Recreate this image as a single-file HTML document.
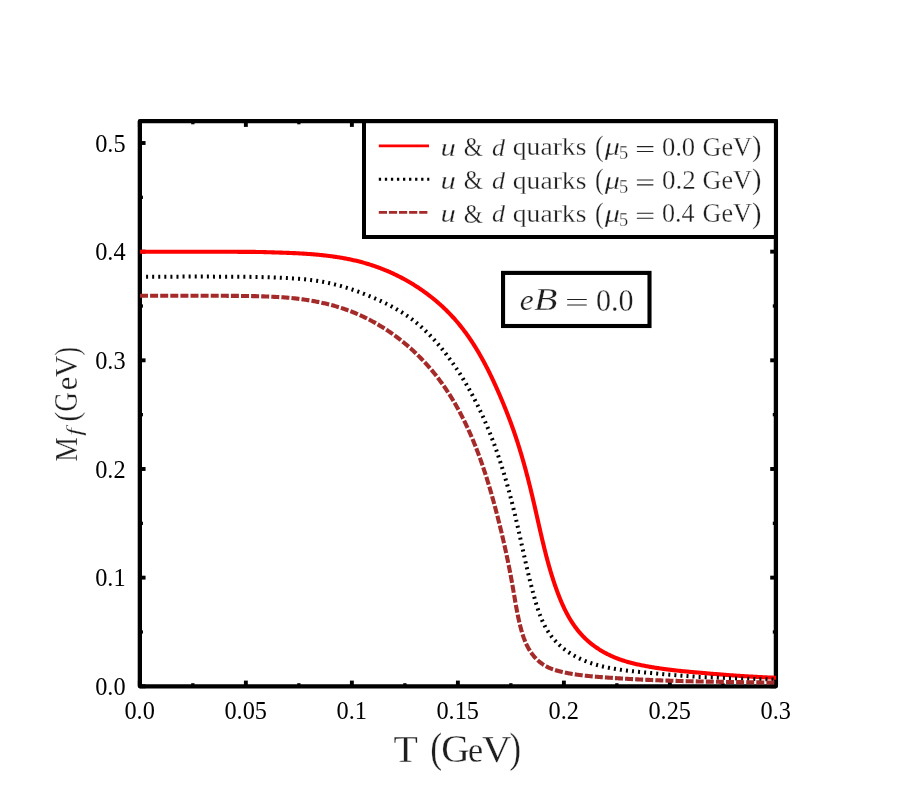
<!DOCTYPE html>
<html>
<head>
<meta charset="utf-8">
<title>Mf vs T</title>
<style>
html,body{margin:0;padding:0;background:#fff;}
body{width:913px;height:812px;overflow:hidden;font-family:"Liberation Serif",serif;}
svg{display:block;position:absolute;left:0;top:0;will-change:transform;}
svg text{font-family:"Liberation Serif",serif;}
</style>
</head>
<body>
<svg width="913" height="812" viewBox="0 0 913 812">
<rect x="0" y="0" width="913" height="812" fill="#ffffff"/>

<!-- frame -->
<rect x="139.85" y="121.2" width="636.05" height="565.0999999999999" fill="none" stroke="#000" stroke-width="4.3" stroke-linejoin="round"/>
<g stroke="#000" stroke-linecap="butt">
<line x1="139.85" y1="686.3" x2="139.85" y2="680.5999999999999" stroke-width="3.9"/>
<line x1="139.85" y1="121.2" x2="139.85" y2="126.9" stroke-width="3.9"/>
<line x1="192.85" y1="686.3" x2="192.85" y2="683.1999999999999" stroke-width="3.3"/>
<line x1="192.85" y1="121.2" x2="192.85" y2="124.3" stroke-width="3.3"/>
<line x1="245.86" y1="686.3" x2="245.86" y2="680.5999999999999" stroke-width="3.9"/>
<line x1="245.86" y1="121.2" x2="245.86" y2="126.9" stroke-width="3.9"/>
<line x1="298.86" y1="686.3" x2="298.86" y2="683.1999999999999" stroke-width="3.3"/>
<line x1="298.86" y1="121.2" x2="298.86" y2="124.3" stroke-width="3.3"/>
<line x1="351.87" y1="686.3" x2="351.87" y2="680.5999999999999" stroke-width="3.9"/>
<line x1="351.87" y1="121.2" x2="351.87" y2="126.9" stroke-width="3.9"/>
<line x1="404.87" y1="686.3" x2="404.87" y2="683.1999999999999" stroke-width="3.3"/>
<line x1="404.87" y1="121.2" x2="404.87" y2="124.3" stroke-width="3.3"/>
<line x1="457.88" y1="686.3" x2="457.88" y2="680.5999999999999" stroke-width="3.9"/>
<line x1="457.88" y1="121.2" x2="457.88" y2="126.9" stroke-width="3.9"/>
<line x1="510.88" y1="686.3" x2="510.88" y2="683.1999999999999" stroke-width="3.3"/>
<line x1="510.88" y1="121.2" x2="510.88" y2="124.3" stroke-width="3.3"/>
<line x1="563.88" y1="686.3" x2="563.88" y2="680.5999999999999" stroke-width="3.9"/>
<line x1="563.88" y1="121.2" x2="563.88" y2="126.9" stroke-width="3.9"/>
<line x1="616.89" y1="686.3" x2="616.89" y2="683.1999999999999" stroke-width="3.3"/>
<line x1="616.89" y1="121.2" x2="616.89" y2="124.3" stroke-width="3.3"/>
<line x1="669.89" y1="686.3" x2="669.89" y2="680.5999999999999" stroke-width="3.9"/>
<line x1="669.89" y1="121.2" x2="669.89" y2="126.9" stroke-width="3.9"/>
<line x1="722.90" y1="686.3" x2="722.90" y2="683.1999999999999" stroke-width="3.3"/>
<line x1="722.90" y1="121.2" x2="722.90" y2="124.3" stroke-width="3.3"/>
<line x1="775.90" y1="686.3" x2="775.90" y2="680.5999999999999" stroke-width="3.9"/>
<line x1="775.90" y1="121.2" x2="775.90" y2="126.9" stroke-width="3.9"/>
<line x1="139.85" y1="686.30" x2="145.54999999999998" y2="686.30" stroke-width="3.9"/>
<line x1="775.9" y1="686.30" x2="770.1999999999999" y2="686.30" stroke-width="3.9"/>
<line x1="139.85" y1="631.97" x2="142.95" y2="631.97" stroke-width="3.3"/>
<line x1="775.9" y1="631.97" x2="772.8" y2="631.97" stroke-width="3.3"/>
<line x1="139.85" y1="577.64" x2="145.54999999999998" y2="577.64" stroke-width="3.9"/>
<line x1="775.9" y1="577.64" x2="770.1999999999999" y2="577.64" stroke-width="3.9"/>
<line x1="139.85" y1="523.31" x2="142.95" y2="523.31" stroke-width="3.3"/>
<line x1="775.9" y1="523.31" x2="772.8" y2="523.31" stroke-width="3.3"/>
<line x1="139.85" y1="468.98" x2="145.54999999999998" y2="468.98" stroke-width="3.9"/>
<line x1="775.9" y1="468.98" x2="770.1999999999999" y2="468.98" stroke-width="3.9"/>
<line x1="139.85" y1="414.65" x2="142.95" y2="414.65" stroke-width="3.3"/>
<line x1="775.9" y1="414.65" x2="772.8" y2="414.65" stroke-width="3.3"/>
<line x1="139.85" y1="360.32" x2="145.54999999999998" y2="360.32" stroke-width="3.9"/>
<line x1="775.9" y1="360.32" x2="770.1999999999999" y2="360.32" stroke-width="3.9"/>
<line x1="139.85" y1="305.99" x2="142.95" y2="305.99" stroke-width="3.3"/>
<line x1="775.9" y1="305.99" x2="772.8" y2="305.99" stroke-width="3.3"/>
<line x1="139.85" y1="251.66" x2="145.54999999999998" y2="251.66" stroke-width="3.9"/>
<line x1="775.9" y1="251.66" x2="770.1999999999999" y2="251.66" stroke-width="3.9"/>
<line x1="139.85" y1="197.33" x2="142.95" y2="197.33" stroke-width="3.3"/>
<line x1="775.9" y1="197.33" x2="772.8" y2="197.33" stroke-width="3.3"/>
<line x1="139.85" y1="143.00" x2="145.54999999999998" y2="143.00" stroke-width="3.9"/>
<line x1="775.9" y1="143.00" x2="770.1999999999999" y2="143.00" stroke-width="3.9"/>
</g>

<!-- curves -->
<g fill="none" stroke-linejoin="round">
<path d="M140.00,251.80 L141.00,251.80 L142.00,251.80 L143.00,251.80 L144.00,251.79 L145.00,251.79 L146.00,251.79 L147.00,251.79 L148.00,251.79 L149.00,251.79 L150.00,251.78 L151.00,251.78 L152.00,251.78 L153.00,251.78 L154.00,251.78 L155.00,251.78 L156.00,251.77 L157.00,251.77 L158.00,251.77 L159.00,251.77 L160.00,251.77 L161.00,251.77 L162.00,251.76 L163.00,251.76 L164.00,251.76 L165.00,251.76 L166.00,251.76 L167.00,251.76 L168.00,251.75 L169.00,251.75 L170.00,251.75 L171.00,251.75 L172.00,251.75 L173.00,251.74 L174.00,251.74 L175.00,251.74 L176.00,251.74 L177.00,251.74 L178.00,251.73 L179.00,251.73 L180.00,251.73 L181.00,251.73 L182.00,251.73 L183.00,251.72 L184.00,251.72 L185.00,251.72 L186.00,251.72 L187.00,251.71 L188.00,251.71 L189.00,251.71 L190.00,251.71 L191.00,251.71 L192.00,251.71 L193.00,251.70 L194.00,251.70 L195.00,251.70 L196.00,251.70 L197.00,251.70 L198.00,251.70 L199.00,251.70 L200.00,251.70 L201.00,251.70 L202.00,251.70 L203.00,251.70 L204.00,251.70 L205.00,251.70 L206.00,251.71 L207.00,251.71 L208.00,251.71 L209.00,251.71 L210.00,251.72 L211.00,251.72 L212.00,251.72 L213.00,251.73 L214.00,251.73 L215.00,251.74 L216.00,251.74 L217.00,251.74 L218.00,251.75 L219.00,251.75 L220.00,251.76 L221.00,251.76 L222.00,251.77 L223.00,251.77 L224.00,251.77 L225.00,251.78 L226.00,251.78 L227.00,251.79 L228.00,251.79 L229.00,251.80 L230.00,251.80 L231.00,251.80 L232.00,251.81 L233.00,251.81 L234.00,251.81 L235.00,251.82 L236.00,251.82 L237.00,251.82 L238.00,251.83 L239.00,251.83 L240.00,251.84 L241.00,251.84 L242.00,251.84 L243.00,251.85 L244.00,251.85 L245.00,251.86 L246.00,251.86 L247.00,251.87 L248.00,251.87 L249.00,251.88 L250.00,251.88 L251.00,251.89 L252.00,251.90 L253.00,251.90 L254.00,251.91 L255.00,251.92 L256.00,251.94 L257.00,251.95 L258.00,251.97 L259.00,251.99 L260.00,252.01 L261.00,252.03 L262.00,252.05 L263.00,252.07 L264.00,252.10 L265.00,252.12 L266.00,252.15 L267.00,252.18 L268.00,252.21 L269.00,252.24 L270.00,252.27 L270.99,252.30 L271.99,252.33 L272.99,252.37 L273.99,252.40 L274.99,252.43 L275.99,252.46 L276.99,252.50 L277.99,252.53 L278.99,252.57 L279.99,252.60 L280.99,252.63 L281.99,252.67 L282.99,252.70 L283.99,252.73 L284.99,252.77 L285.99,252.80 L286.99,252.84 L287.99,252.88 L288.98,252.91 L289.98,252.95 L290.98,253.00 L291.98,253.04 L292.98,253.08 L293.98,253.13 L294.98,253.17 L295.98,253.22 L296.98,253.27 L297.98,253.32 L298.97,253.37 L299.97,253.43 L300.97,253.48 L301.97,253.54 L302.97,253.60 L303.97,253.66 L304.96,253.73 L305.96,253.79 L306.96,253.86 L307.96,253.93 L308.96,254.00 L309.95,254.07 L310.95,254.15 L311.95,254.22 L312.94,254.30 L313.94,254.39 L314.94,254.47 L315.93,254.56 L316.93,254.65 L317.93,254.74 L318.92,254.83 L319.92,254.93 L320.91,255.03 L321.91,255.14 L322.90,255.24 L323.90,255.35 L324.89,255.46 L325.88,255.57 L326.88,255.69 L327.87,255.81 L328.86,255.94 L329.85,256.06 L330.85,256.19 L331.84,256.32 L332.83,256.46 L333.82,256.60 L334.81,256.74 L335.80,256.89 L336.79,257.04 L337.77,257.19 L338.76,257.35 L339.75,257.51 L340.74,257.68 L341.72,257.84 L342.71,258.02 L343.69,258.19 L344.68,258.37 L345.66,258.56 L346.64,258.74 L347.62,258.94 L348.61,259.13 L349.59,259.33 L350.57,259.54 L351.54,259.74 L352.52,259.96 L353.50,260.17 L354.47,260.40 L355.45,260.62 L356.42,260.85 L357.39,261.09 L358.37,261.33 L359.34,261.57 L360.31,261.82 L361.27,262.07 L362.24,262.33 L363.21,262.60 L364.17,262.87 L365.13,263.14 L366.09,263.42 L367.05,263.70 L368.01,263.99 L368.97,264.28 L369.92,264.58 L370.88,264.88 L371.83,265.19 L372.78,265.50 L373.73,265.82 L374.68,266.15 L375.62,266.47 L376.57,266.81 L377.51,267.15 L378.45,267.49 L379.39,267.84 L380.32,268.19 L381.26,268.55 L382.19,268.91 L383.12,269.28 L384.05,269.65 L384.98,270.03 L385.90,270.41 L386.83,270.80 L387.75,271.19 L388.67,271.59 L389.58,271.99 L390.50,272.40 L391.41,272.81 L392.32,273.22 L393.23,273.65 L394.14,274.07 L395.04,274.50 L395.94,274.93 L396.84,275.37 L397.74,275.82 L398.64,276.27 L399.53,276.72 L400.42,277.18 L401.31,277.64 L402.19,278.11 L403.08,278.58 L403.96,279.05 L404.84,279.53 L405.71,280.02 L406.59,280.51 L407.46,281.00 L408.33,281.50 L409.19,282.00 L410.06,282.51 L410.92,283.02 L411.77,283.54 L412.63,284.06 L413.48,284.59 L414.33,285.12 L415.18,285.65 L416.02,286.19 L416.87,286.73 L417.71,287.28 L418.54,287.83 L419.37,288.39 L420.20,288.95 L421.03,289.51 L421.86,290.08 L422.68,290.65 L423.50,291.23 L424.31,291.81 L425.13,292.40 L425.93,292.99 L426.74,293.58 L427.54,294.18 L428.34,294.79 L429.14,295.39 L429.94,296.01 L430.73,296.62 L431.51,297.24 L432.30,297.87 L433.08,298.49 L433.85,299.13 L434.63,299.76 L435.40,300.40 L436.17,301.05 L436.93,301.70 L437.69,302.35 L438.45,303.01 L439.20,303.67 L439.95,304.34 L440.70,305.01 L441.44,305.68 L442.18,306.36 L442.91,307.04 L443.64,307.73 L444.37,308.42 L445.09,309.11 L445.81,309.81 L446.53,310.51 L447.24,311.22 L447.95,311.93 L448.65,312.64 L449.35,313.36 L450.05,314.08 L450.74,314.80 L451.43,315.53 L452.11,316.27 L452.79,317.01 L453.47,317.75 L454.14,318.49 L454.81,319.24 L455.47,319.99 L456.13,320.75 L456.79,321.51 L457.44,322.28 L458.08,323.04 L458.72,323.81 L459.36,324.59 L459.99,325.37 L460.62,326.15 L461.25,326.93 L461.87,327.72 L462.48,328.51 L463.10,329.31 L463.70,330.11 L464.31,330.91 L464.91,331.71 L465.51,332.52 L466.10,333.33 L466.69,334.14 L467.27,334.96 L467.85,335.78 L468.43,336.60 L469.00,337.42 L469.57,338.25 L470.13,339.08 L470.69,339.91 L471.25,340.74 L471.81,341.58 L472.36,342.42 L472.90,343.26 L473.44,344.10 L473.98,344.95 L474.52,345.80 L475.05,346.65 L475.58,347.50 L476.11,348.36 L476.63,349.21 L477.15,350.07 L477.66,350.93 L478.17,351.80 L478.68,352.66 L479.19,353.53 L479.69,354.40 L480.19,355.27 L480.68,356.14 L481.18,357.01 L481.67,357.89 L482.15,358.76 L482.64,359.64 L483.12,360.52 L483.60,361.41 L484.07,362.29 L484.54,363.17 L485.01,364.06 L485.48,364.95 L485.94,365.84 L486.41,366.73 L486.86,367.62 L487.32,368.51 L487.77,369.41 L488.22,370.30 L488.67,371.20 L489.12,372.10 L489.56,373.00 L490.00,373.90 L490.44,374.80 L490.88,375.70 L491.31,376.60 L491.75,377.51 L492.18,378.41 L492.60,379.32 L493.03,380.23 L493.45,381.14 L493.87,382.05 L494.29,382.96 L494.71,383.87 L495.13,384.78 L495.54,385.69 L495.95,386.61 L496.36,387.52 L496.77,388.44 L497.18,389.35 L497.58,390.27 L497.99,391.18 L498.39,392.10 L498.79,393.02 L499.19,393.94 L499.59,394.86 L499.98,395.78 L500.38,396.70 L500.77,397.62 L501.16,398.54 L501.55,399.47 L501.94,400.39 L502.33,401.32 L502.71,402.24 L503.10,403.17 L503.48,404.09 L503.86,405.02 L504.24,405.95 L504.62,406.87 L504.99,407.80 L505.37,408.73 L505.74,409.66 L506.11,410.59 L506.48,411.53 L506.85,412.46 L507.21,413.39 L507.58,414.33 L507.94,415.26 L508.30,416.19 L508.66,417.13 L509.02,418.07 L509.37,419.00 L509.73,419.94 L510.08,420.88 L510.43,421.82 L510.78,422.76 L511.13,423.70 L511.47,424.64 L511.81,425.59 L512.15,426.53 L512.49,427.47 L512.83,428.42 L513.16,429.36 L513.50,430.31 L513.83,431.26 L514.16,432.20 L514.48,433.15 L514.81,434.10 L515.13,435.05 L515.45,436.00 L515.77,436.95 L516.09,437.90 L516.40,438.86 L516.72,439.81 L517.03,440.76 L517.34,441.72 L517.65,442.67 L517.95,443.63 L518.26,444.58 L518.56,445.54 L518.86,446.50 L519.16,447.45 L519.45,448.41 L519.75,449.37 L520.04,450.33 L520.33,451.29 L520.62,452.25 L520.91,453.21 L521.20,454.17 L521.48,455.13 L521.77,456.09 L522.05,457.06 L522.33,458.02 L522.61,458.98 L522.88,459.95 L523.16,460.91 L523.43,461.87 L523.71,462.84 L523.98,463.80 L524.25,464.77 L524.52,465.74 L524.78,466.70 L525.05,467.67 L525.31,468.64 L525.57,469.60 L525.84,470.57 L526.10,471.54 L526.35,472.51 L526.61,473.48 L526.87,474.45 L527.12,475.42 L527.38,476.39 L527.63,477.36 L527.88,478.33 L528.13,479.30 L528.38,480.27 L528.63,481.24 L528.87,482.21 L529.12,483.18 L529.36,484.16 L529.60,485.13 L529.85,486.10 L530.09,487.07 L530.33,488.05 L530.57,489.02 L530.80,489.99 L531.04,490.97 L531.28,491.94 L531.51,492.91 L531.75,493.89 L531.98,494.86 L532.21,495.84 L532.44,496.81 L532.67,497.79 L532.90,498.76 L533.13,499.74 L533.36,500.71 L533.59,501.69 L533.81,502.67 L534.04,503.64 L534.26,504.62 L534.49,505.59 L534.71,506.57 L534.93,507.54 L535.16,508.52 L535.38,509.50 L535.60,510.47 L535.82,511.45 L536.04,512.43 L536.26,513.40 L536.48,514.38 L536.70,515.35 L536.92,516.33 L537.14,517.30 L537.36,518.28 L537.58,519.26 L537.80,520.23 L538.02,521.21 L538.24,522.18 L538.46,523.16 L538.68,524.13 L538.90,525.11 L539.12,526.08 L539.34,527.06 L539.57,528.03 L539.79,529.00 L540.01,529.98 L540.23,530.95 L540.46,531.93 L540.68,532.90 L540.90,533.87 L541.13,534.84 L541.35,535.82 L541.58,536.79 L541.81,537.76 L542.04,538.73 L542.27,539.70 L542.50,540.67 L542.73,541.65 L542.96,542.62 L543.19,543.59 L543.43,544.56 L543.66,545.52 L543.90,546.49 L544.14,547.46 L544.38,548.43 L544.62,549.40 L544.86,550.37 L545.10,551.33 L545.35,552.30 L545.59,553.26 L545.84,554.23 L546.09,555.19 L546.34,556.16 L546.59,557.12 L546.85,558.09 L547.10,559.05 L547.36,560.01 L547.62,560.97 L547.88,561.94 L548.15,562.90 L548.41,563.86 L548.68,564.82 L548.95,565.77 L549.22,566.73 L549.50,567.69 L549.77,568.65 L550.05,569.60 L550.33,570.56 L550.62,571.51 L550.90,572.47 L551.19,573.42 L551.48,574.37 L551.77,575.32 L552.07,576.28 L552.37,577.23 L552.67,578.17 L552.97,579.12 L553.28,580.07 L553.59,581.02 L553.90,581.96 L554.21,582.91 L554.53,583.85 L554.85,584.79 L555.17,585.73 L555.50,586.67 L555.83,587.61 L556.16,588.55 L556.50,589.49 L556.83,590.43 L557.17,591.36 L557.52,592.29 L557.87,593.23 L558.22,594.16 L558.58,595.08 L558.94,596.01 L559.30,596.94 L559.67,597.86 L560.04,598.78 L560.42,599.70 L560.80,600.62 L561.19,601.53 L561.58,602.45 L561.97,603.36 L562.38,604.27 L562.78,605.17 L563.19,606.08 L563.61,606.98 L564.03,607.88 L564.46,608.77 L564.90,609.67 L565.34,610.56 L565.79,611.44 L566.24,612.33 L566.70,613.21 L567.17,614.08 L567.64,614.96 L568.12,615.83 L568.60,616.69 L569.10,617.55 L569.60,618.41 L570.11,619.26 L570.62,620.11 L571.15,620.95 L571.68,621.79 L572.22,622.63 L572.76,623.46 L573.32,624.28 L573.88,625.10 L574.45,625.91 L575.03,626.72 L575.61,627.52 L576.21,628.32 L576.81,629.10 L577.42,629.89 L578.04,630.66 L578.67,631.43 L579.31,632.19 L579.96,632.95 L580.61,633.69 L581.27,634.43 L581.95,635.16 L582.63,635.89 L583.32,636.60 L584.02,637.31 L584.72,638.01 L585.44,638.70 L586.16,639.38 L586.89,640.05 L587.64,640.72 L588.38,641.37 L589.14,642.02 L589.90,642.66 L590.67,643.29 L591.45,643.91 L592.24,644.52 L593.03,645.12 L593.83,645.72 L594.63,646.31 L595.44,646.88 L596.26,647.45 L597.09,648.01 L597.92,648.57 L598.75,649.11 L599.59,649.65 L600.44,650.17 L601.29,650.69 L602.15,651.20 L603.01,651.70 L603.88,652.19 L604.75,652.68 L605.62,653.15 L606.51,653.62 L607.39,654.08 L608.28,654.52 L609.18,654.96 L610.08,655.39 L610.98,655.82 L611.89,656.23 L612.80,656.63 L613.72,657.03 L614.64,657.41 L615.56,657.79 L616.49,658.16 L617.42,658.52 L618.36,658.87 L619.29,659.22 L620.23,659.55 L621.18,659.88 L622.12,660.20 L623.07,660.51 L624.02,660.81 L624.98,661.11 L625.93,661.40 L626.89,661.68 L627.85,661.96 L628.81,662.23 L629.78,662.49 L630.74,662.75 L631.71,663.00 L632.68,663.25 L633.65,663.49 L634.62,663.72 L635.59,663.95 L636.57,664.17 L637.54,664.39 L638.52,664.60 L639.50,664.81 L640.47,665.02 L641.45,665.22 L642.43,665.42 L643.41,665.61 L644.40,665.80 L645.38,665.99 L646.36,666.17 L647.34,666.35 L648.33,666.53 L649.31,666.71 L650.30,666.88 L651.28,667.05 L652.27,667.21 L653.25,667.38 L654.24,667.54 L655.23,667.70 L656.22,667.85 L657.20,668.00 L658.19,668.15 L659.18,668.30 L660.17,668.45 L661.16,668.59 L662.15,668.73 L663.14,668.87 L664.13,669.00 L665.12,669.13 L666.11,669.26 L667.11,669.39 L668.10,669.52 L669.09,669.64 L670.08,669.77 L671.07,669.89 L672.07,670.00 L673.06,670.12 L674.05,670.23 L675.05,670.35 L676.04,670.46 L677.03,670.57 L678.03,670.67 L679.02,670.78 L680.02,670.88 L681.01,670.99 L682.01,671.09 L683.00,671.19 L684.00,671.29 L684.99,671.38 L685.99,671.48 L686.98,671.57 L687.98,671.66 L688.97,671.75 L689.97,671.84 L690.97,671.93 L691.96,672.02 L692.96,672.11 L693.95,672.19 L694.95,672.28 L695.95,672.36 L696.94,672.45 L697.94,672.53 L698.94,672.61 L699.93,672.69 L700.93,672.78 L701.93,672.86 L702.92,672.96 L703.92,673.05 L704.91,673.14 L705.91,673.23 L706.91,673.33 L707.90,673.42 L708.90,673.51 L709.89,673.59 L710.89,673.67 L711.89,673.76 L712.88,673.84 L713.88,673.92 L714.88,674.00 L715.87,674.08 L716.87,674.16 L717.87,674.24 L718.86,674.32 L719.86,674.40 L720.86,674.48 L721.85,674.56 L722.85,674.64 L723.85,674.72 L724.84,674.80 L725.84,674.87 L726.84,674.95 L727.84,675.02 L728.83,675.10 L729.83,675.17 L730.83,675.25 L731.83,675.32 L732.82,675.39 L733.82,675.46 L734.82,675.53 L735.81,675.60 L736.81,675.67 L737.81,675.74 L738.81,675.80 L739.81,675.87 L740.80,675.94 L741.80,676.00 L742.80,676.06 L743.80,676.13 L744.80,676.19 L745.79,676.25 L746.79,676.31 L747.79,676.37 L748.79,676.43 L749.79,676.48 L750.78,676.54 L751.78,676.60 L752.78,676.66 L753.78,676.71 L754.78,676.77 L755.78,676.82 L756.78,676.88 L757.77,676.93 L758.77,676.99 L759.77,677.04 L760.77,677.09 L761.77,677.14 L762.77,677.19 L763.77,677.24 L764.76,677.29 L765.76,677.34 L766.76,677.39 L767.76,677.44 L768.76,677.48 L769.76,677.53 L770.76,677.57 L771.76,677.62 L772.76,677.66 L773.75,677.71 L774.75,677.75 L775.75,677.79 L776.00,677.80" stroke="#ff0000" stroke-width="4.1"/>
<path d="M140.00,276.70 L141.00,276.70 L142.00,276.70 L143.00,276.70 L144.00,276.69 L145.00,276.69 L146.00,276.69 L147.00,276.69 L148.00,276.69 L149.00,276.69 L150.00,276.68 L151.00,276.68 L152.00,276.68 L153.00,276.68 L154.00,276.68 L155.00,276.68 L156.00,276.67 L157.00,276.67 L158.00,276.67 L159.00,276.67 L160.00,276.67 L161.00,276.67 L162.00,276.66 L163.00,276.66 L164.00,276.66 L165.00,276.66 L166.00,276.66 L167.00,276.66 L168.00,276.65 L169.00,276.65 L170.00,276.65 L171.00,276.65 L172.00,276.65 L173.00,276.64 L174.00,276.64 L175.00,276.64 L176.00,276.64 L177.00,276.64 L178.00,276.63 L179.00,276.63 L180.00,276.63 L181.00,276.63 L182.00,276.63 L183.00,276.62 L184.00,276.62 L185.00,276.62 L186.00,276.62 L187.00,276.61 L188.00,276.61 L189.00,276.61 L190.00,276.61 L191.00,276.61 L192.00,276.61 L193.00,276.60 L194.00,276.60 L195.00,276.60 L196.00,276.60 L197.00,276.60 L198.00,276.60 L199.00,276.60 L200.00,276.60 L201.00,276.60 L202.00,276.60 L203.00,276.60 L204.00,276.60 L205.00,276.60 L206.00,276.61 L207.00,276.61 L208.00,276.61 L209.00,276.61 L210.00,276.61 L211.00,276.62 L212.00,276.62 L213.00,276.62 L214.00,276.63 L215.00,276.63 L216.00,276.64 L217.00,276.64 L218.00,276.64 L219.00,276.65 L220.00,276.65 L221.00,276.66 L222.00,276.66 L223.00,276.67 L224.00,276.67 L225.00,276.68 L226.00,276.68 L227.00,276.69 L228.00,276.69 L229.00,276.70 L230.00,276.70 L231.00,276.71 L232.00,276.71 L233.00,276.72 L234.00,276.72 L235.00,276.73 L236.00,276.73 L237.00,276.74 L238.00,276.75 L239.00,276.76 L240.00,276.76 L241.00,276.77 L242.00,276.78 L243.00,276.79 L244.00,276.80 L245.00,276.81 L246.00,276.82 L247.00,276.83 L248.00,276.84 L249.00,276.85 L250.00,276.87 L251.00,276.88 L252.00,276.89 L253.00,276.91 L254.00,276.92 L255.00,276.94 L256.00,276.96 L257.00,276.98 L258.00,277.00 L259.00,277.02 L260.00,277.05 L261.00,277.08 L262.00,277.11 L263.00,277.14 L264.00,277.17 L265.00,277.20 L265.99,277.23 L266.99,277.27 L267.99,277.30 L268.99,277.34 L269.99,277.38 L270.99,277.41 L271.99,277.45 L272.99,277.49 L273.99,277.53 L274.99,277.57 L275.99,277.61 L276.99,277.65 L277.99,277.70 L278.99,277.74 L279.98,277.78 L280.98,277.82 L281.98,277.86 L282.98,277.90 L283.98,277.94 L284.98,277.98 L285.98,278.03 L286.98,278.08 L287.98,278.13 L288.98,278.18 L289.97,278.23 L290.97,278.29 L291.97,278.35 L292.97,278.41 L293.97,278.47 L294.97,278.54 L295.96,278.60 L296.96,278.68 L297.96,278.75 L298.95,278.83 L299.95,278.91 L300.95,278.99 L301.94,279.08 L302.94,279.17 L303.94,279.26 L304.93,279.36 L305.93,279.46 L306.92,279.57 L307.92,279.67 L308.91,279.79 L309.90,279.90 L310.90,280.02 L311.89,280.15 L312.88,280.28 L313.87,280.41 L314.86,280.55 L315.85,280.69 L316.84,280.84 L317.83,280.99 L318.82,281.14 L319.81,281.30 L320.79,281.47 L321.78,281.64 L322.76,281.82 L323.75,282.00 L324.73,282.19 L325.71,282.38 L326.69,282.58 L327.67,282.78 L328.65,282.99 L329.63,283.20 L330.61,283.42 L331.58,283.65 L332.56,283.87 L333.53,284.11 L334.50,284.35 L335.47,284.59 L336.44,284.84 L337.41,285.09 L338.37,285.35 L339.34,285.61 L340.30,285.88 L341.27,286.15 L342.23,286.43 L343.19,286.71 L344.15,286.99 L345.11,287.28 L346.06,287.57 L347.02,287.87 L347.97,288.17 L348.93,288.48 L349.88,288.79 L350.83,289.10 L351.78,289.42 L352.73,289.74 L353.67,290.06 L354.62,290.39 L355.56,290.72 L356.50,291.06 L357.45,291.40 L358.39,291.74 L359.32,292.09 L360.26,292.44 L361.20,292.79 L362.13,293.15 L363.07,293.51 L364.00,293.87 L364.93,294.23 L365.86,294.60 L366.79,294.98 L367.72,295.35 L368.64,295.73 L369.57,296.11 L370.49,296.49 L371.42,296.88 L372.34,297.27 L373.26,297.66 L374.18,298.06 L375.10,298.46 L376.01,298.86 L376.93,299.27 L377.84,299.68 L378.75,300.09 L379.66,300.51 L380.57,300.93 L381.48,301.35 L382.38,301.78 L383.28,302.21 L384.19,302.65 L385.08,303.09 L385.98,303.53 L386.88,303.98 L387.77,304.43 L388.66,304.89 L389.55,305.35 L390.44,305.81 L391.32,306.28 L392.20,306.76 L393.08,307.24 L393.96,307.72 L394.83,308.21 L395.71,308.70 L396.57,309.20 L397.44,309.70 L398.30,310.21 L399.16,310.73 L400.02,311.24 L400.88,311.77 L401.73,312.30 L402.57,312.83 L403.42,313.37 L404.26,313.91 L405.10,314.46 L405.93,315.02 L406.76,315.58 L407.59,316.15 L408.41,316.72 L409.23,317.30 L410.04,317.89 L410.85,318.48 L411.66,319.07 L412.46,319.67 L413.26,320.28 L414.05,320.90 L414.84,321.52 L415.62,322.14 L416.40,322.77 L417.18,323.41 L417.95,324.05 L418.71,324.70 L419.47,325.36 L420.23,326.02 L420.98,326.68 L421.73,327.35 L422.47,328.02 L423.21,328.70 L423.95,329.38 L424.68,330.07 L425.40,330.76 L426.12,331.46 L426.84,332.16 L427.55,332.87 L428.26,333.58 L428.97,334.29 L429.67,335.01 L430.36,335.73 L431.06,336.45 L431.75,337.18 L432.43,337.91 L433.11,338.65 L433.79,339.39 L434.46,340.13 L435.13,340.88 L435.80,341.63 L436.46,342.38 L437.12,343.14 L437.77,343.90 L438.42,344.66 L439.07,345.42 L439.72,346.19 L440.36,346.96 L441.00,347.74 L441.63,348.51 L442.26,349.29 L442.89,350.07 L443.52,350.86 L444.14,351.64 L444.76,352.43 L445.37,353.22 L445.99,354.01 L446.60,354.81 L447.20,355.61 L447.81,356.41 L448.41,357.21 L449.01,358.01 L449.60,358.82 L450.20,359.63 L450.78,360.44 L451.37,361.25 L451.95,362.07 L452.53,362.89 L453.11,363.71 L453.69,364.53 L454.26,365.35 L454.83,366.18 L455.39,367.00 L455.96,367.83 L456.52,368.67 L457.07,369.50 L457.63,370.33 L458.18,371.17 L458.73,372.01 L459.27,372.85 L459.82,373.70 L460.36,374.54 L460.89,375.39 L461.43,376.24 L461.96,377.09 L462.49,377.94 L463.01,378.79 L463.53,379.65 L464.05,380.51 L464.57,381.36 L465.09,382.23 L465.60,383.09 L466.11,383.95 L466.61,384.82 L467.12,385.68 L467.62,386.55 L468.11,387.42 L468.61,388.30 L469.10,389.17 L469.59,390.05 L470.08,390.92 L470.56,391.80 L471.04,392.68 L471.52,393.56 L472.00,394.44 L472.47,395.33 L472.94,396.21 L473.41,397.10 L473.87,397.99 L474.34,398.88 L474.80,399.77 L475.25,400.66 L475.71,401.56 L476.16,402.45 L476.61,403.35 L477.06,404.25 L477.50,405.14 L477.94,406.04 L478.38,406.95 L478.82,407.85 L479.26,408.75 L479.69,409.66 L480.12,410.56 L480.54,411.47 L480.97,412.38 L481.39,413.29 L481.81,414.20 L482.23,415.11 L482.64,416.02 L483.06,416.94 L483.47,417.85 L483.87,418.77 L484.28,419.69 L484.68,420.61 L485.08,421.53 L485.48,422.45 L485.88,423.37 L486.27,424.29 L486.66,425.21 L487.05,426.14 L487.44,427.06 L487.82,427.99 L488.21,428.92 L488.59,429.84 L488.96,430.77 L489.34,431.70 L489.71,432.63 L490.08,433.57 L490.45,434.50 L490.82,435.43 L491.19,436.37 L491.55,437.30 L491.91,438.24 L492.27,439.17 L492.62,440.11 L492.98,441.05 L493.33,441.99 L493.68,442.93 L494.03,443.87 L494.38,444.81 L494.72,445.75 L495.06,446.69 L495.40,447.64 L495.74,448.58 L496.08,449.53 L496.41,450.47 L496.74,451.42 L497.07,452.37 L497.40,453.31 L497.73,454.26 L498.05,455.21 L498.38,456.16 L498.70,457.11 L499.02,458.06 L499.33,459.01 L499.65,459.96 L499.96,460.92 L500.27,461.87 L500.58,462.82 L500.89,463.78 L501.20,464.73 L501.50,465.69 L501.81,466.64 L502.11,467.60 L502.41,468.56 L502.71,469.52 L503.00,470.47 L503.30,471.43 L503.59,472.39 L503.88,473.35 L504.17,474.31 L504.46,475.27 L504.74,476.23 L505.03,477.19 L505.31,478.16 L505.59,479.12 L505.87,480.08 L506.15,481.04 L506.43,482.01 L506.70,482.97 L506.98,483.94 L507.25,484.90 L507.52,485.87 L507.79,486.83 L508.06,487.80 L508.33,488.77 L508.59,489.73 L508.85,490.70 L509.12,491.67 L509.38,492.64 L509.64,493.61 L509.89,494.57 L510.15,495.54 L510.41,496.51 L510.66,497.48 L510.91,498.45 L511.17,499.42 L511.42,500.39 L511.66,501.37 L511.91,502.34 L512.16,503.31 L512.40,504.28 L512.65,505.25 L512.89,506.23 L513.13,507.20 L513.37,508.17 L513.61,509.15 L513.85,510.12 L514.08,511.09 L514.32,512.07 L514.55,513.04 L514.79,514.02 L515.02,514.99 L515.25,515.97 L515.48,516.94 L515.71,517.92 L515.94,518.90 L516.16,519.87 L516.39,520.85 L516.61,521.82 L516.84,522.80 L517.06,523.78 L517.28,524.75 L517.51,525.73 L517.73,526.71 L517.95,527.68 L518.17,528.66 L518.39,529.64 L518.61,530.62 L518.82,531.59 L519.04,532.57 L519.26,533.55 L519.48,534.52 L519.69,535.50 L519.91,536.48 L520.12,537.46 L520.34,538.43 L520.55,539.41 L520.77,540.39 L520.98,541.36 L521.20,542.34 L521.41,543.32 L521.63,544.29 L521.84,545.27 L522.06,546.25 L522.27,547.22 L522.49,548.20 L522.70,549.18 L522.92,550.15 L523.13,551.13 L523.35,552.10 L523.57,553.08 L523.78,554.05 L524.00,555.03 L524.22,556.01 L524.43,556.98 L524.65,557.95 L524.87,558.93 L525.09,559.90 L525.31,560.88 L525.53,561.85 L525.75,562.83 L525.97,563.80 L526.19,564.77 L526.42,565.75 L526.64,566.72 L526.86,567.69 L527.09,568.66 L527.32,569.63 L527.54,570.61 L527.77,571.58 L528.00,572.55 L528.23,573.52 L528.46,574.49 L528.70,575.46 L528.93,576.43 L529.17,577.40 L529.40,578.37 L529.64,579.34 L529.88,580.30 L530.12,581.27 L530.36,582.24 L530.60,583.21 L530.85,584.17 L531.09,585.14 L531.34,586.11 L531.59,587.07 L531.84,588.04 L532.09,589.00 L532.34,589.96 L532.60,590.93 L532.86,591.89 L533.12,592.85 L533.38,593.82 L533.64,594.78 L533.90,595.74 L534.17,596.70 L534.43,597.66 L534.70,598.62 L534.98,599.58 L535.25,600.53 L535.53,601.49 L535.81,602.44 L536.09,603.39 L536.37,604.35 L536.67,605.30 L536.96,606.24 L537.26,607.19 L537.56,608.13 L537.87,609.08 L538.18,610.02 L538.50,610.95 L538.83,611.89 L539.16,612.82 L539.50,613.76 L539.84,614.68 L540.19,615.61 L540.55,616.53 L540.92,617.45 L541.29,618.37 L541.67,619.28 L542.06,620.19 L542.46,621.09 L542.87,621.99 L543.29,622.89 L543.72,623.78 L544.15,624.67 L544.60,625.55 L545.06,626.42 L545.53,627.29 L546.01,628.16 L546.50,629.01 L547.00,629.86 L547.52,630.71 L548.05,631.54 L548.59,632.37 L549.14,633.19 L549.70,634.01 L550.28,634.81 L550.87,635.60 L551.47,636.39 L552.08,637.17 L552.71,637.94 L553.34,638.70 L553.99,639.45 L554.65,640.19 L555.32,640.92 L556.00,641.65 L556.69,642.36 L557.39,643.07 L558.10,643.76 L558.82,644.45 L559.54,645.12 L560.28,645.79 L561.03,646.45 L561.78,647.09 L562.55,647.73 L563.32,648.36 L564.10,648.98 L564.88,649.59 L565.68,650.18 L566.48,650.77 L567.29,651.35 L568.11,651.92 L568.94,652.48 L569.77,653.03 L570.60,653.57 L571.45,654.09 L572.30,654.61 L573.16,655.12 L574.02,655.62 L574.89,656.11 L575.76,656.59 L576.64,657.05 L577.53,657.51 L578.42,657.96 L579.32,658.40 L580.22,658.83 L581.12,659.24 L582.03,659.65 L582.95,660.05 L583.86,660.44 L584.79,660.82 L585.71,661.20 L586.64,661.56 L587.58,661.91 L588.51,662.26 L589.45,662.59 L590.40,662.92 L591.34,663.24 L592.29,663.55 L593.24,663.86 L594.20,664.15 L595.15,664.44 L596.11,664.72 L597.07,665.00 L598.03,665.26 L599.00,665.52 L599.97,665.77 L600.93,666.02 L601.90,666.26 L602.88,666.49 L603.85,666.72 L604.82,666.94 L605.80,667.15 L606.78,667.36 L607.76,667.56 L608.74,667.76 L609.72,667.95 L610.70,668.14 L611.68,668.32 L612.67,668.50 L613.65,668.67 L614.64,668.84 L615.62,669.00 L616.61,669.16 L617.60,669.31 L618.59,669.46 L619.57,669.61 L620.56,669.75 L621.55,669.89 L622.54,670.03 L623.54,670.16 L624.53,670.29 L625.52,670.41 L626.51,670.54 L627.50,670.66 L628.50,670.78 L629.49,670.89 L630.48,671.01 L631.48,671.12 L632.47,671.23 L633.46,671.33 L634.46,671.44 L635.45,671.54 L636.45,671.64 L637.44,671.74 L638.44,671.84 L639.43,671.94 L640.43,672.04 L641.42,672.13 L642.42,672.23 L643.41,672.32 L644.41,672.42 L645.41,672.51 L646.40,672.61 L647.40,672.70 L648.39,672.79 L649.39,672.89 L650.38,672.98 L651.38,673.07 L652.38,673.16 L653.37,673.26 L654.37,673.35 L655.36,673.44 L656.36,673.53 L657.35,673.62 L658.35,673.71 L659.35,673.80 L660.34,673.89 L661.34,673.98 L662.33,674.07 L663.33,674.15 L664.33,674.24 L665.32,674.33 L666.32,674.41 L667.32,674.50 L668.31,674.59 L669.31,674.67 L670.30,674.75 L671.30,674.84 L672.30,674.92 L673.29,675.00 L674.29,675.09 L675.29,675.17 L676.28,675.25 L677.28,675.33 L678.28,675.41 L679.27,675.49 L680.27,675.57 L681.27,675.64 L682.27,675.72 L683.26,675.80 L684.26,675.87 L685.26,675.94 L686.25,676.02 L687.25,676.09 L688.25,676.16 L689.25,676.24 L690.24,676.31 L691.24,676.38 L692.24,676.44 L693.24,676.51 L694.23,676.58 L695.23,676.65 L696.23,676.71 L697.23,676.78 L698.23,676.84 L699.22,676.90 L700.22,676.96 L701.22,677.00 L702.22,677.04 L703.22,677.08 L704.22,677.11 L705.22,677.15 L706.22,677.18 L707.22,677.21 L708.22,677.24 L709.22,677.27 L710.21,677.31 L711.21,677.35 L712.21,677.38 L713.21,677.42 L714.21,677.46 L715.21,677.50 L716.21,677.54 L717.21,677.59 L718.21,677.63 L719.21,677.67 L720.21,677.71 L721.21,677.75 L722.20,677.80 L723.20,677.84 L724.20,677.88 L725.20,677.93 L726.20,677.97 L727.20,678.01 L728.20,678.06 L729.20,678.10 L730.20,678.14 L731.20,678.18 L732.20,678.22 L733.19,678.27 L734.19,678.31 L735.19,678.35 L736.19,678.39 L737.19,678.42 L738.19,678.46 L739.19,678.50 L740.19,678.54 L741.19,678.57 L742.19,678.61 L743.19,678.64 L744.19,678.67 L745.19,678.71 L746.19,678.74 L747.19,678.77 L748.19,678.80 L749.18,678.83 L750.18,678.86 L751.18,678.89 L752.18,678.92 L753.18,678.95 L754.18,678.97 L755.18,679.00 L756.18,679.03 L757.18,679.06 L758.18,679.09 L759.18,679.11 L760.18,679.14 L761.18,679.16 L762.18,679.19 L763.18,679.22 L764.18,679.24 L765.18,679.26 L766.18,679.29 L767.18,679.31 L768.18,679.34 L769.18,679.36 L770.18,679.38 L771.18,679.40 L772.18,679.42 L773.18,679.44 L774.18,679.46 L775.18,679.48 L776.00,679.50" stroke="#000" stroke-width="4" stroke-dasharray="2 4.08"/>
<path d="M140.00,295.80 L141.00,295.80 L142.00,295.80 L143.00,295.80 L144.00,295.79 L145.00,295.79 L146.00,295.79 L147.00,295.79 L148.00,295.79 L149.00,295.79 L150.00,295.78 L151.00,295.78 L152.00,295.78 L153.00,295.78 L154.00,295.78 L155.00,295.78 L156.00,295.77 L157.00,295.77 L158.00,295.77 L159.00,295.77 L160.00,295.77 L161.00,295.77 L162.00,295.76 L163.00,295.76 L164.00,295.76 L165.00,295.76 L166.00,295.76 L167.00,295.76 L168.00,295.75 L169.00,295.75 L170.00,295.75 L171.00,295.75 L172.00,295.75 L173.00,295.74 L174.00,295.74 L175.00,295.74 L176.00,295.74 L177.00,295.74 L178.00,295.73 L179.00,295.73 L180.00,295.73 L181.00,295.73 L182.00,295.73 L183.00,295.72 L184.00,295.72 L185.00,295.72 L186.00,295.72 L187.00,295.71 L188.00,295.71 L189.00,295.71 L190.00,295.71 L191.00,295.71 L192.00,295.71 L193.00,295.70 L194.00,295.70 L195.00,295.70 L196.00,295.70 L197.00,295.70 L198.00,295.70 L199.00,295.70 L200.00,295.70 L201.00,295.70 L202.00,295.70 L203.00,295.70 L204.00,295.70 L205.00,295.71 L206.00,295.71 L207.00,295.71 L208.00,295.72 L209.00,295.72 L210.00,295.72 L211.00,295.73 L212.00,295.73 L213.00,295.74 L214.00,295.74 L215.00,295.75 L216.00,295.75 L217.00,295.76 L218.00,295.77 L219.00,295.77 L220.00,295.78 L221.00,295.79 L222.00,295.79 L223.00,295.80 L224.00,295.81 L225.00,295.81 L226.00,295.82 L227.00,295.83 L228.00,295.84 L229.00,295.84 L230.00,295.85 L231.00,295.86 L232.00,295.86 L233.00,295.87 L234.00,295.88 L235.00,295.89 L236.00,295.90 L237.00,295.91 L238.00,295.91 L239.00,295.92 L240.00,295.93 L241.00,295.94 L242.00,295.95 L243.00,295.97 L244.00,295.98 L245.00,295.99 L246.00,296.00 L247.00,296.02 L248.00,296.03 L249.00,296.04 L250.00,296.06 L251.00,296.07 L252.00,296.09 L253.00,296.11 L254.00,296.13 L255.00,296.15 L256.00,296.17 L257.00,296.19 L258.00,296.22 L259.00,296.24 L260.00,296.27 L261.00,296.30 L262.00,296.34 L262.99,296.37 L263.99,296.41 L264.99,296.44 L265.99,296.48 L266.99,296.52 L267.99,296.56 L268.99,296.60 L269.99,296.65 L270.99,296.69 L271.99,296.74 L272.99,296.79 L273.99,296.83 L274.98,296.88 L275.98,296.94 L276.98,296.99 L277.98,297.04 L278.98,297.10 L279.98,297.15 L280.98,297.21 L281.97,297.27 L282.97,297.32 L283.97,297.38 L284.97,297.44 L285.97,297.52 L286.96,297.61 L287.96,297.69 L288.96,297.78 L289.95,297.87 L290.95,297.97 L291.94,298.07 L292.94,298.17 L293.93,298.27 L294.93,298.38 L295.92,298.50 L296.91,298.61 L297.91,298.73 L298.90,298.85 L299.89,298.98 L300.88,299.11 L301.88,299.24 L302.87,299.38 L303.86,299.52 L304.85,299.66 L305.84,299.81 L306.82,299.96 L307.81,300.11 L308.80,300.27 L309.79,300.43 L310.77,300.60 L311.76,300.77 L312.74,300.95 L313.73,301.12 L314.71,301.31 L315.70,301.49 L316.68,301.68 L317.66,301.88 L318.64,302.08 L319.62,302.28 L320.60,302.48 L321.58,302.70 L322.55,302.91 L323.53,303.13 L324.50,303.36 L325.48,303.58 L326.45,303.82 L327.42,304.05 L328.39,304.30 L329.36,304.54 L330.33,304.79 L331.30,305.05 L332.27,305.31 L333.23,305.57 L334.19,305.84 L335.16,306.12 L336.12,306.40 L337.08,306.68 L338.04,306.97 L338.99,307.26 L339.95,307.56 L340.90,307.86 L341.85,308.17 L342.81,308.48 L343.75,308.80 L344.70,309.13 L345.65,309.45 L346.59,309.79 L347.53,310.12 L348.47,310.47 L349.41,310.82 L350.35,311.17 L351.28,311.53 L352.22,311.89 L353.15,312.26 L354.07,312.64 L355.00,313.02 L355.92,313.40 L356.85,313.79 L357.77,314.19 L358.68,314.59 L359.60,315.00 L360.51,315.41 L361.42,315.82 L362.33,316.24 L363.24,316.67 L364.14,317.10 L365.04,317.54 L365.94,317.98 L366.84,318.42 L367.73,318.88 L368.62,319.33 L369.51,319.79 L370.40,320.26 L371.28,320.73 L372.17,321.20 L373.04,321.68 L373.92,322.16 L374.80,322.65 L375.67,323.15 L376.54,323.64 L377.40,324.15 L378.27,324.65 L379.13,325.16 L379.99,325.68 L380.84,326.20 L381.70,326.72 L382.55,327.25 L383.39,327.79 L384.24,328.32 L385.08,328.87 L385.92,329.41 L386.76,329.96 L387.59,330.52 L388.42,331.08 L389.25,331.64 L390.08,332.21 L390.90,332.78 L391.72,333.35 L392.54,333.93 L393.35,334.52 L394.16,335.10 L394.97,335.69 L395.78,336.29 L396.58,336.89 L397.38,337.49 L398.18,338.10 L398.97,338.71 L399.76,339.32 L400.55,339.94 L401.34,340.57 L402.12,341.19 L402.90,341.82 L403.67,342.46 L404.45,343.09 L405.22,343.73 L405.98,344.38 L406.75,345.03 L407.51,345.68 L408.27,346.34 L409.02,346.99 L409.77,347.66 L410.52,348.32 L411.27,348.99 L412.01,349.67 L412.75,350.34 L413.48,351.02 L414.22,351.71 L414.94,352.40 L415.67,353.09 L416.39,353.78 L417.11,354.48 L417.83,355.18 L418.54,355.88 L419.25,356.59 L419.96,357.30 L420.66,358.02 L421.36,358.73 L422.06,359.46 L422.75,360.18 L423.44,360.91 L424.13,361.64 L424.81,362.37 L425.49,363.11 L426.17,363.85 L426.84,364.59 L427.51,365.34 L428.17,366.09 L428.84,366.84 L429.50,367.60 L430.15,368.36 L430.80,369.12 L431.45,369.88 L432.10,370.65 L432.74,371.42 L433.37,372.20 L434.01,372.97 L434.64,373.75 L435.26,374.54 L435.89,375.32 L436.51,376.11 L437.12,376.90 L437.74,377.70 L438.34,378.49 L438.95,379.29 L439.55,380.10 L440.15,380.90 L440.74,381.71 L441.33,382.52 L441.92,383.33 L442.51,384.15 L443.09,384.97 L443.66,385.79 L444.24,386.61 L444.81,387.44 L445.37,388.26 L445.94,389.09 L446.50,389.93 L447.05,390.76 L447.60,391.60 L448.15,392.44 L448.70,393.28 L449.24,394.12 L449.78,394.97 L450.31,395.82 L450.85,396.67 L451.37,397.52 L451.90,398.38 L452.42,399.23 L452.94,400.09 L453.46,400.95 L453.97,401.82 L454.48,402.68 L454.98,403.55 L455.48,404.42 L455.98,405.29 L456.48,406.16 L456.97,407.03 L457.46,407.91 L457.95,408.79 L458.43,409.67 L458.91,410.55 L459.39,411.43 L459.86,412.31 L460.33,413.20 L460.80,414.09 L461.26,414.98 L461.72,415.87 L462.18,416.76 L462.64,417.65 L463.09,418.55 L463.54,419.45 L463.98,420.35 L464.43,421.25 L464.87,422.15 L465.31,423.05 L465.74,423.95 L466.17,424.86 L466.60,425.77 L467.03,426.67 L467.45,427.58 L467.87,428.50 L468.29,429.41 L468.70,430.32 L469.12,431.24 L469.53,432.15 L469.93,433.07 L470.34,433.99 L470.74,434.91 L471.14,435.83 L471.54,436.75 L471.93,437.67 L472.32,438.59 L472.71,439.52 L473.10,440.45 L473.48,441.37 L473.86,442.30 L474.24,443.23 L474.62,444.16 L474.99,445.09 L475.36,446.02 L475.73,446.95 L476.10,447.89 L476.46,448.82 L476.82,449.76 L477.18,450.70 L477.54,451.63 L477.90,452.57 L478.25,453.51 L478.60,454.45 L478.95,455.39 L479.30,456.33 L479.64,457.27 L479.98,458.22 L480.32,459.16 L480.66,460.10 L481.00,461.05 L481.33,462.00 L481.66,462.94 L481.99,463.89 L482.32,464.84 L482.64,465.79 L482.97,466.74 L483.29,467.69 L483.61,468.64 L483.93,469.59 L484.24,470.54 L484.56,471.49 L484.87,472.44 L485.18,473.40 L485.49,474.35 L485.80,475.31 L486.10,476.26 L486.41,477.22 L486.71,478.17 L487.01,479.13 L487.31,480.09 L487.60,481.05 L487.90,482.01 L488.19,482.96 L488.48,483.92 L488.77,484.88 L489.06,485.84 L489.35,486.80 L489.64,487.76 L489.92,488.73 L490.20,489.69 L490.48,490.65 L490.76,491.61 L491.04,492.58 L491.32,493.54 L491.60,494.50 L491.87,495.47 L492.14,496.43 L492.41,497.40 L492.68,498.36 L492.95,499.33 L493.22,500.29 L493.49,501.26 L493.75,502.23 L494.02,503.19 L494.28,504.16 L494.54,505.13 L494.80,506.10 L495.06,507.06 L495.32,508.03 L495.58,509.00 L495.83,509.97 L496.09,510.94 L496.34,511.91 L496.60,512.88 L496.85,513.85 L497.10,514.82 L497.35,515.79 L497.60,516.76 L497.85,517.73 L498.09,518.70 L498.34,519.67 L498.59,520.64 L498.83,521.61 L499.07,522.59 L499.32,523.56 L499.56,524.53 L499.80,525.50 L500.04,526.48 L500.28,527.45 L500.51,528.42 L500.75,529.40 L500.99,530.37 L501.22,531.34 L501.46,532.32 L501.69,533.29 L501.92,534.27 L502.15,535.24 L502.38,536.22 L502.61,537.20 L502.84,538.17 L503.06,539.15 L503.29,540.12 L503.51,541.10 L503.74,542.08 L503.96,543.06 L504.18,544.03 L504.40,545.01 L504.62,545.99 L504.84,546.97 L505.05,547.95 L505.27,548.93 L505.48,549.91 L505.70,550.88 L505.91,551.86 L506.12,552.84 L506.33,553.82 L506.54,554.81 L506.75,555.79 L506.96,556.77 L507.16,557.75 L507.37,558.73 L507.57,559.71 L507.78,560.69 L507.98,561.68 L508.18,562.66 L508.38,563.64 L508.58,564.62 L508.77,565.61 L508.97,566.59 L509.16,567.57 L509.36,568.56 L509.55,569.54 L509.74,570.53 L509.93,571.51 L510.12,572.50 L510.31,573.48 L510.50,574.47 L510.68,575.45 L510.87,576.44 L511.05,577.43 L511.24,578.41 L511.42,579.40 L511.60,580.39 L511.78,581.37 L511.95,582.36 L512.13,583.35 L512.31,584.34 L512.48,585.32 L512.65,586.31 L512.83,587.30 L513.00,588.29 L513.17,589.28 L513.33,590.26 L513.50,591.25 L513.67,592.24 L513.84,593.23 L514.01,594.21 L514.17,595.20 L514.34,596.18 L514.51,597.17 L514.67,598.15 L514.84,599.14 L515.01,600.12 L515.18,601.10 L515.35,602.09 L515.52,603.07 L515.69,604.05 L515.87,605.03 L516.04,606.01 L516.22,606.99 L516.40,607.97 L516.58,608.94 L516.77,609.92 L516.95,610.90 L517.14,611.87 L517.33,612.85 L517.52,613.82 L517.72,614.79 L517.92,615.77 L518.12,616.74 L518.33,617.71 L518.53,618.68 L518.75,619.65 L518.96,620.61 L519.18,621.58 L519.40,622.55 L519.63,623.51 L519.86,624.47 L520.10,625.44 L520.34,626.40 L520.58,627.35 L520.84,628.31 L521.09,629.26 L521.36,630.22 L521.63,631.17 L521.90,632.11 L522.19,633.06 L522.48,634.00 L522.78,634.94 L523.09,635.87 L523.41,636.81 L523.73,637.74 L524.07,638.66 L524.42,639.58 L524.78,640.50 L525.15,641.41 L525.53,642.32 L525.92,643.22 L526.33,644.12 L526.75,645.01 L527.18,645.90 L527.62,646.77 L528.08,647.64 L528.56,648.51 L529.05,649.36 L529.55,650.21 L530.07,651.04 L530.61,651.87 L531.16,652.68 L531.73,653.49 L532.32,654.28 L532.92,655.06 L533.54,655.83 L534.18,656.58 L534.83,657.32 L535.50,658.05 L536.19,658.76 L536.89,659.45 L537.61,660.13 L538.35,660.80 L539.10,661.44 L539.86,662.08 L540.64,662.69 L541.43,663.29 L542.23,663.86 L543.05,664.43 L543.88,664.97 L544.73,665.49 L545.58,666.00 L546.45,666.48 L547.33,666.95 L548.22,667.39 L549.12,667.81 L550.03,668.22 L550.95,668.60 L551.87,668.96 L552.81,669.31 L553.75,669.64 L554.70,669.95 L555.65,670.25 L556.60,670.53 L557.56,670.81 L558.53,671.07 L559.49,671.32 L560.46,671.56 L561.44,671.79 L562.41,672.02 L563.38,672.24 L564.36,672.45 L565.34,672.66 L566.32,672.86 L567.30,673.05 L568.28,673.24 L569.26,673.42 L570.24,673.60 L571.23,673.77 L572.21,673.94 L573.20,674.10 L574.19,674.25 L575.18,674.40 L576.17,674.55 L577.16,674.69 L578.15,674.83 L579.14,674.96 L580.13,675.09 L581.12,675.21 L582.11,675.33 L583.11,675.45 L584.10,675.56 L585.09,675.67 L586.09,675.77 L587.08,675.88 L588.08,675.98 L589.07,676.07 L590.07,676.17 L591.06,676.26 L592.06,676.35 L593.06,676.44 L594.05,676.53 L595.05,676.61 L596.04,676.69 L597.04,676.77 L598.04,676.85 L599.03,676.93 L600.03,677.01 L601.03,677.09 L602.03,677.16 L603.02,677.24 L604.02,677.31 L605.02,677.39 L606.01,677.46 L607.01,677.53 L608.01,677.60 L609.01,677.67 L610.00,677.74 L611.00,677.81 L612.00,677.88 L613.00,677.95 L613.99,678.02 L614.99,678.08 L615.99,678.15 L616.99,678.21 L617.99,678.27 L618.98,678.34 L619.98,678.40 L620.98,678.46 L621.98,678.52 L622.98,678.58 L623.97,678.64 L624.97,678.70 L625.97,678.76 L626.97,678.82 L627.97,678.87 L628.97,678.93 L629.96,678.99 L630.96,679.04 L631.96,679.09 L632.96,679.15 L633.96,679.20 L634.96,679.25 L635.96,679.30 L636.95,679.36 L637.95,679.41 L638.95,679.46 L639.95,679.50 L640.95,679.55 L641.95,679.60 L642.95,679.65 L643.95,679.69 L644.95,679.74 L645.94,679.79 L646.94,679.83 L647.94,679.87 L648.94,679.92 L649.94,679.96 L650.94,680.00 L651.94,680.05 L652.94,680.09 L653.94,680.13 L654.94,680.17 L655.94,680.21 L656.93,680.25 L657.93,680.28 L658.93,680.32 L659.93,680.36 L660.93,680.40 L661.93,680.43 L662.93,680.47 L663.93,680.50 L664.93,680.54 L665.93,680.57 L666.93,680.61 L667.93,680.64 L668.93,680.67 L669.93,680.71 L670.93,680.74 L671.93,680.77 L672.92,680.80 L673.92,680.83 L674.92,680.86 L675.92,680.89 L676.92,680.92 L677.92,680.95 L678.92,680.98 L679.92,681.00 L680.92,681.03 L681.92,681.06 L682.92,681.09 L683.92,681.11 L684.92,681.14 L685.92,681.16 L686.92,681.19 L687.92,681.21 L688.92,681.24 L689.92,681.26 L690.92,681.28 L691.92,681.31 L692.92,681.33 L693.92,681.35 L694.92,681.37 L695.92,681.40 L696.92,681.42 L697.92,681.44 L698.92,681.46 L699.92,681.48 L700.92,681.50 L701.92,681.52 L702.92,681.54 L703.92,681.55 L704.92,681.57 L705.92,681.59 L706.91,681.61 L707.91,681.63 L708.91,681.65 L709.91,681.66 L710.91,681.68 L711.91,681.70 L712.91,681.72 L713.91,681.74 L714.91,681.75 L715.91,681.77 L716.91,681.79 L717.91,681.81 L718.91,681.82 L719.91,681.84 L720.91,681.86 L721.91,681.87 L722.91,681.89 L723.91,681.91 L724.91,681.92 L725.91,681.94 L726.91,681.95 L727.91,681.97 L728.91,681.98 L729.91,682.00 L730.91,682.01 L731.91,682.03 L732.91,682.04 L733.91,682.06 L734.91,682.07 L735.91,682.09 L736.91,682.10 L737.91,682.12 L738.91,682.13 L739.91,682.15 L740.91,682.16 L741.91,682.17 L742.91,682.19 L743.91,682.20 L744.91,682.22 L745.91,682.23 L746.91,682.24 L747.91,682.26 L748.91,682.27 L749.91,682.29 L750.91,682.30 L751.91,682.31 L752.91,682.33 L753.91,682.34 L754.91,682.35 L755.91,682.36 L756.91,682.38 L757.91,682.39 L758.91,682.40 L759.91,682.42 L760.91,682.43 L761.91,682.44 L762.91,682.45 L763.91,682.46 L764.91,682.48 L765.91,682.49 L766.91,682.50 L767.91,682.51 L768.91,682.52 L769.91,682.53 L770.91,682.55 L771.91,682.56 L772.91,682.57 L773.91,682.58 L774.91,682.59 L775.91,682.60 L776.00,682.60" stroke="#a52a2a" stroke-width="4.1" stroke-dasharray="8 2.1"/>
</g>

<!-- legend box -->
<rect x="364" y="121.2" width="411.9" height="115.8" fill="#fff" stroke="#000" stroke-width="4"/>
<line x1="378.8" y1="145.9" x2="429.0" y2="145.9" stroke="#ff0000" stroke-width="2.7"/>
<line x1="378.8" y1="179.3" x2="429.3" y2="179.3" stroke="#000" stroke-width="2.9" stroke-dasharray="2.3 3.75"/>
<line x1="378.8" y1="212.4" x2="427.5" y2="212.4" stroke="#a52a2a" stroke-width="2.7" stroke-dasharray="8.2 1.9"/>
<text transform="matrix(1.2337 0 0 1.0000 440.56 155.60)" font-size="25.0" font-style="italic" fill="#1e1e1e" stroke="#fff" stroke-width="0.26" paint-order="fill stroke">u</text>
<text transform="matrix(0.9855 0 0 1.1259 463.68 155.82)" font-size="25.0" fill="#1e1e1e" stroke="#fff" stroke-width="0.26" paint-order="fill stroke">&amp;</text>
<text transform="matrix(1.0413 0 0 1.0326 491.92 155.64)" font-size="25.0" font-style="italic" fill="#1e1e1e" stroke="#fff" stroke-width="0.26" paint-order="fill stroke">d</text>
<text transform="matrix(1.1037 0 0 1.0094 512.83 155.24)" font-size="25.0" fill="#1e1e1e" stroke="#fff" stroke-width="0.26" paint-order="fill stroke">quarks</text>
<text transform="matrix(1.0408 0 0 1.1416 594.99 155.94)" font-size="25.0" fill="#1e1e1e" stroke="#fff" stroke-width="0.26" paint-order="fill stroke">(</text>
<text transform="matrix(1.2170 0 0 1.0074 604.80 155.39)" font-size="25.0" font-style="italic" fill="#1e1e1e" stroke="#fff" stroke-width="0.26" paint-order="fill stroke">μ</text>
<text transform="matrix(1.0214 0 0 0.9900 619.04 159.42)" font-size="18" fill="#1e1e1e" stroke="#fff" stroke-width="0.26" paint-order="fill stroke">5</text>
<path d="M637.3,146.60H653.0M637.3,151.50H653.0" stroke="#222" stroke-width="1.05" fill="none" stroke-linecap="round"/>
<text transform="matrix(1.0655 0 0 1.0529 661.90 155.71)" font-size="25.0" fill="#1e1e1e" stroke="#fff" stroke-width="0.26" paint-order="fill stroke">0.0</text>
<text transform="matrix(1.0463 0 0 1.0863 702.55 155.69)" font-size="25.0" fill="#1e1e1e" stroke="#fff" stroke-width="0.26" paint-order="fill stroke">GeV</text>
<text transform="matrix(1.1340 0 0 1.1416 751.98 155.94)" font-size="25.0" fill="#1e1e1e" stroke="#fff" stroke-width="0.26" paint-order="fill stroke">)</text>
<text transform="matrix(1.2337 0 0 1.0000 440.56 188.95)" font-size="25.0" font-style="italic" fill="#1e1e1e" stroke="#fff" stroke-width="0.26" paint-order="fill stroke">u</text>
<text transform="matrix(0.9855 0 0 1.1259 463.68 189.17)" font-size="25.0" fill="#1e1e1e" stroke="#fff" stroke-width="0.26" paint-order="fill stroke">&amp;</text>
<text transform="matrix(1.0413 0 0 1.0326 491.92 188.99)" font-size="25.0" font-style="italic" fill="#1e1e1e" stroke="#fff" stroke-width="0.26" paint-order="fill stroke">d</text>
<text transform="matrix(1.1037 0 0 1.0094 512.83 188.59)" font-size="25.0" fill="#1e1e1e" stroke="#fff" stroke-width="0.26" paint-order="fill stroke">quarks</text>
<text transform="matrix(1.0408 0 0 1.1416 594.99 189.29)" font-size="25.0" fill="#1e1e1e" stroke="#fff" stroke-width="0.26" paint-order="fill stroke">(</text>
<text transform="matrix(1.2170 0 0 1.0074 604.80 188.74)" font-size="25.0" font-style="italic" fill="#1e1e1e" stroke="#fff" stroke-width="0.26" paint-order="fill stroke">μ</text>
<text transform="matrix(1.0214 0 0 0.9900 619.04 192.77)" font-size="18" fill="#1e1e1e" stroke="#fff" stroke-width="0.26" paint-order="fill stroke">5</text>
<path d="M637.3,179.95H653.0M637.3,184.85H653.0" stroke="#222" stroke-width="1.05" fill="none" stroke-linecap="round"/>
<text transform="matrix(1.0816 0 0 1.0529 661.89 189.06)" font-size="25.0" fill="#1e1e1e" stroke="#fff" stroke-width="0.26" paint-order="fill stroke">0.2</text>
<text transform="matrix(1.0463 0 0 1.0863 702.55 189.04)" font-size="25.0" fill="#1e1e1e" stroke="#fff" stroke-width="0.26" paint-order="fill stroke">GeV</text>
<text transform="matrix(1.1340 0 0 1.1416 751.98 189.29)" font-size="25.0" fill="#1e1e1e" stroke="#fff" stroke-width="0.26" paint-order="fill stroke">)</text>
<text transform="matrix(1.2337 0 0 1.0000 440.56 222.30)" font-size="25.0" font-style="italic" fill="#1e1e1e" stroke="#fff" stroke-width="0.26" paint-order="fill stroke">u</text>
<text transform="matrix(0.9855 0 0 1.1259 463.68 222.52)" font-size="25.0" fill="#1e1e1e" stroke="#fff" stroke-width="0.26" paint-order="fill stroke">&amp;</text>
<text transform="matrix(1.0413 0 0 1.0326 491.92 222.34)" font-size="25.0" font-style="italic" fill="#1e1e1e" stroke="#fff" stroke-width="0.26" paint-order="fill stroke">d</text>
<text transform="matrix(1.1037 0 0 1.0094 512.83 221.94)" font-size="25.0" fill="#1e1e1e" stroke="#fff" stroke-width="0.26" paint-order="fill stroke">quarks</text>
<text transform="matrix(1.0408 0 0 1.1416 594.99 222.64)" font-size="25.0" fill="#1e1e1e" stroke="#fff" stroke-width="0.26" paint-order="fill stroke">(</text>
<text transform="matrix(1.2170 0 0 1.0074 604.80 222.09)" font-size="25.0" font-style="italic" fill="#1e1e1e" stroke="#fff" stroke-width="0.26" paint-order="fill stroke">μ</text>
<text transform="matrix(1.0214 0 0 0.9900 619.04 226.12)" font-size="18" fill="#1e1e1e" stroke="#fff" stroke-width="0.26" paint-order="fill stroke">5</text>
<path d="M637.3,213.30H653.0M637.3,218.20H653.0" stroke="#222" stroke-width="1.05" fill="none" stroke-linecap="round"/>
<text transform="matrix(1.0455 0 0 1.0529 661.92 222.41)" font-size="25.0" fill="#1e1e1e" stroke="#fff" stroke-width="0.26" paint-order="fill stroke">0.4</text>
<text transform="matrix(1.0463 0 0 1.0863 702.55 222.39)" font-size="25.0" fill="#1e1e1e" stroke="#fff" stroke-width="0.26" paint-order="fill stroke">GeV</text>
<text transform="matrix(1.1340 0 0 1.1416 751.98 222.64)" font-size="25.0" fill="#1e1e1e" stroke="#fff" stroke-width="0.26" paint-order="fill stroke">)</text>

<!-- eB box -->
<rect x="503.05" y="272.9" width="146.45" height="53.1" fill="#fff" stroke="#000" stroke-width="4.1"/>
<text transform="matrix(1.0531 0 0 0.9583 519.75 310.31)" font-size="30" font-style="italic" fill="#1e1e1e" stroke="#fff" stroke-width="0.26" paint-order="fill stroke">e</text>
<text transform="matrix(1.2759 0 0 1.0393 534.12 310.12)" font-size="30" font-style="italic" fill="#1e1e1e" stroke="#fff" stroke-width="0.26" paint-order="fill stroke">B</text>
<path d="M567.6,299.50H586.3M567.6,305.00H586.3" stroke="#222" stroke-width="1.15" fill="none" stroke-linecap="round"/>
<text transform="matrix(1.0043 0 0 1.0637 595.97 310.52)" font-size="30" fill="#1e1e1e" stroke="#fff" stroke-width="0.26" paint-order="fill stroke">0.0</text>

<!-- tick labels -->
<g font-size="25.3" fill="#000">
<text transform="translate(139.65,718.6) scale(0.962,1)" text-anchor="middle">0.0</text>
<text transform="translate(245.66,718.6) scale(0.962,1)" text-anchor="middle">0.05</text>
<text transform="translate(351.67,718.6) scale(0.962,1)" text-anchor="middle">0.1</text>
<text transform="translate(457.68,718.6) scale(0.962,1)" text-anchor="middle">0.15</text>
<text transform="translate(563.68,718.6) scale(0.962,1)" text-anchor="middle">0.2</text>
<text transform="translate(669.69,718.6) scale(0.962,1)" text-anchor="middle">0.25</text>
<text transform="translate(775.70,718.6) scale(0.962,1)" text-anchor="middle">0.3</text>
<text transform="translate(125.6,694.85) scale(0.962,1)" text-anchor="end">0.0</text>
<text transform="translate(125.6,586.19) scale(0.962,1)" text-anchor="end">0.1</text>
<text transform="translate(125.6,477.53) scale(0.962,1)" text-anchor="end">0.2</text>
<text transform="translate(125.6,368.87) scale(0.962,1)" text-anchor="end">0.3</text>
<text transform="translate(125.6,260.21) scale(0.962,1)" text-anchor="end">0.4</text>
<text transform="translate(125.6,151.55) scale(0.962,1)" text-anchor="end">0.5</text>
</g>

<!-- axis labels -->
<text transform="matrix(1.0481 0 0 1.0165 393.40 761.70)" font-size="38" fill="#1e1e1e" stroke="#fff" stroke-width="0.26" paint-order="fill stroke">T</text>
<text transform="matrix(0.9402 0 0 1.0874 430.18 762.12)" font-size="38" fill="#1e1e1e" stroke="#fff" stroke-width="0.26" paint-order="fill stroke">(</text>
<text transform="matrix(1.0364 0 0 1.0487 441.32 762.10)" font-size="38" fill="#1e1e1e" stroke="#fff" stroke-width="0.26" paint-order="fill stroke">G</text>
<text transform="matrix(0.8962 0 0 0.9649 467.94 762.13)" font-size="38" fill="#1e1e1e" stroke="#fff" stroke-width="0.26" paint-order="fill stroke">e</text>
<text transform="matrix(1.0677 0 0 1.0251 481.89 761.92)" font-size="38" fill="#1e1e1e" stroke="#fff" stroke-width="0.26" paint-order="fill stroke">V</text>
<text transform="matrix(0.9096 0 0 1.0874 509.58 762.12)" font-size="38" fill="#1e1e1e" stroke="#fff" stroke-width="0.26" paint-order="fill stroke">)</text>
<g transform="rotate(-90)">
<text transform="matrix(0.8671 0 0 1.0115 -461.66 77.10)" font-size="32" fill="#1e1e1e" stroke="#fff" stroke-width="0.26" paint-order="fill stroke">M</text>
<text transform="matrix(1.2834 0 0 0.9908 -435.78 81.37)" font-size="22" font-style="italic" fill="#1e1e1e" stroke="#fff" stroke-width="0.26" paint-order="fill stroke">f</text>
<text transform="matrix(0.8981 0 0 1.0675 -421.52 77.64)" font-size="32" fill="#1e1e1e" stroke="#fff" stroke-width="0.26" paint-order="fill stroke">(</text>
<text transform="matrix(0.8413 0 0 1.0223 -411.38 77.17)" font-size="32" fill="#1e1e1e" stroke="#fff" stroke-width="0.26" paint-order="fill stroke">G</text>
<text transform="matrix(0.9544 0 0 0.9570 -390.32 77.09)" font-size="32" fill="#1e1e1e" stroke="#fff" stroke-width="0.26" paint-order="fill stroke">e</text>
<text transform="matrix(0.9375 0 0 1.0028 -377.20 76.92)" font-size="32" fill="#1e1e1e" stroke="#fff" stroke-width="0.26" paint-order="fill stroke">V</text>
<text transform="matrix(0.7888 0 0 1.0675 -355.62 77.64)" font-size="32" fill="#1e1e1e" stroke="#fff" stroke-width="0.26" paint-order="fill stroke">)</text>
</g>
</svg>
</body>
</html>
